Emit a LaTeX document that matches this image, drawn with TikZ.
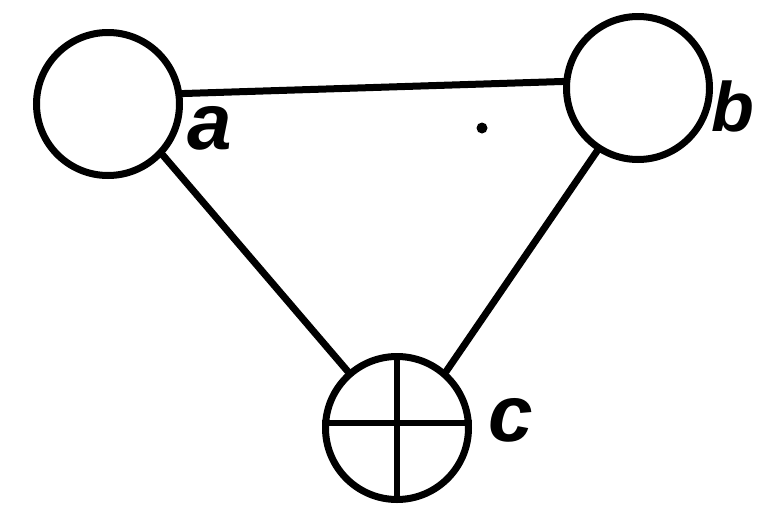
\documentclass[tikz,border=0pt]{standalone}
\usepackage{fontspec}
\setmainfont{Liberation Sans}
\begin{document}
\begin{tikzpicture}[x=1pt,y=-1pt,
  ring/.style={circle,draw,line width=7pt,inner sep=0pt,minimum size=143pt},
  link/.style={line width=7pt,line cap=round},
  lbl/.style={inner sep=0pt,font=\fontsize{80}{80}\selectfont\bfseries\itshape}]
\useasboundingbox (0,0) rectangle (758,512);
\node[ring] (a) at (108,104) {};
\node[ring] (b) at (638,88) {};
\node[ring] (c) at (397,428) {};
\draw[line width=6pt] (c.north) -- (c.south);
\draw[line width=6pt] ([yshift=5pt]c.west) -- ([yshift=5pt]c.east);
\draw[link] (a.8) -- (b.175);
\draw[link] (a.-43) -- (c.131);
\draw[link] (b.-123) -- (c.49);
\fill (482,128) circle (5.5pt);
\node[lbl] (la) at (210,128) {a};
\node[lbl,font=\fontsize{70}{70}\selectfont\bfseries\itshape] (lb) at (733,106) {b};
\node[lbl] (lc) at (511,420) {c};
\end{tikzpicture}
\end{document}
